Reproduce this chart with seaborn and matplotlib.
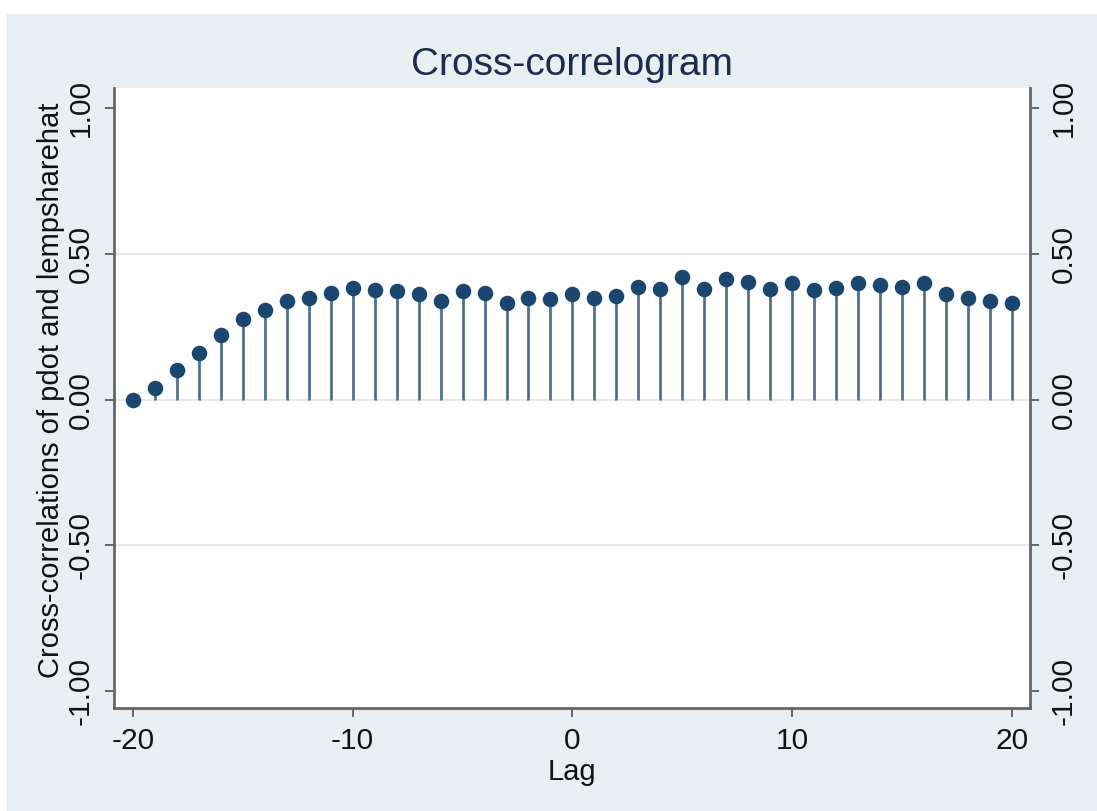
import matplotlib
matplotlib.use("Agg")
import matplotlib.pyplot as plt
import seaborn as sns
import pandas as pd
from matplotlib.patches import Rectangle

# Cross-correlations of pdot and lempsharehat by lag
lags = list(range(-20, 21))
xcorr = [0.00, 0.04, 0.10, 0.16, 0.22, 0.277, 0.306, 0.338, 0.349, 0.367,
         0.382, 0.375, 0.372, 0.361, 0.338, 0.372, 0.367, 0.332, 0.349, 0.344,
         0.361, 0.349, 0.355, 0.387, 0.380, 0.422, 0.380, 0.413, 0.405, 0.380,
         0.399, 0.376, 0.382, 0.399, 0.392, 0.387, 0.399, 0.364, 0.347, 0.338,
         0.332]
y_ticks = [-1.0, -0.5, 0.0, 0.5, 1.0]
y_tick_labels = ["-1.00", "-0.50", "0.00", "0.50", "1.00"]
x_ticks = [-20, -10, 0, 10, 20]

df = pd.DataFrame({"lag": lags, "r": xcorr})

sns.set_theme(style="white")
plt.rcParams["font.family"] = ["Liberation Sans", "DejaVu Sans"]

BG = "#e7eff2"
NAVY = "#1a476f"
STEM = "#52708a"
AXIS = "#666666"
TXT = "#111111"

fig = plt.figure(figsize=(10.97, 8.11), dpi=100, facecolor="white")
fig.patches.append(Rectangle((7 / 1097, 0), 1, 1 - 14 / 811, transform=fig.transFigure,
                             facecolor=BG, edgecolor="none", zorder=-10))

ax = fig.add_axes([114 / 1097, 1 - 708 / 811, (1030 - 114) / 1097, (708 - 88) / 811])
ax.set_facecolor("white")

# grid lines at the interior ticks
for yv in [-0.5, 0.0, 0.5]:
    ax.axhline(yv, color="#e3eaed", lw=1.6, zorder=0)

ax.vlines(df["lag"], 0, df["r"], color=STEM, lw=2.0, zorder=2)
sns.scatterplot(data=df, x="lag", y="r", ax=ax, s=125, color=NAVY,
                edgecolor=NAVY, linewidth=0, zorder=3, legend=False)

ax.set_xlim(-20.86, 20.82)
ax.set_ylim(-1.058, 1.069)

ax.set_xticks(x_ticks)
ax.set_xticklabels([str(v) for v in x_ticks])
ax.set_yticks(y_ticks)
ax.set_yticklabels(y_tick_labels)

ax.tick_params(axis="both", direction="out", length=6.5, width=1.4, color=AXIS,
               labelsize=21.5, labelcolor=TXT)
ax.tick_params(axis="x", bottom=True, pad=7.5)
ax.tick_params(axis="y", left=True, right=True, labelleft=True, labelright=True, pad=7.5)
for t in ax.yaxis.get_major_ticks():
    t.label1.set_rotation(90)
    t.label1.set_va("center")
    t.label2.set_rotation(90)
    t.label2.set_va("center")

for side in ["left", "right", "bottom"]:
    ax.spines[side].set_color(AXIS)
    ax.spines[side].set_linewidth(2)
ax.spines["top"].set_visible(False)

ax.set_xlabel("Lag", fontsize=21, color=TXT)
ax.xaxis.set_label_coords(0.5, -0.081)
ax.set_ylabel("Cross-correlations of pdot and lempsharehat", fontsize=21, color=TXT)
ax.yaxis.set_label_coords(-0.053, 0.512)
ax.set_title("Cross-correlogram", fontsize=28, color="#1d2b4c", pad=9.5)

fig.savefig("out.png", dpi=100, facecolor=fig.get_facecolor())
